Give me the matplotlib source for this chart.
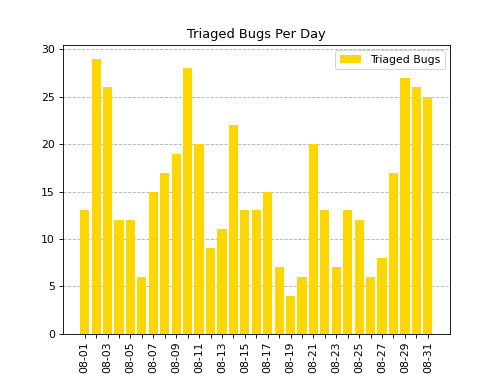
import matplotlib
matplotlib.use("Agg")
import matplotlib.pyplot as plt

days = [f"08-{d:02d}" for d in range(1, 32)]
bugs = [13, 29, 26, 12, 12, 6, 15, 17, 19, 28, 20, 9, 11, 22, 13, 13, 15, 7, 4, 6,
        20, 13, 7, 13, 12, 6, 8, 17, 27, 26, 25]

fig, ax = plt.subplots(figsize=(6.4, 4.8), dpi=78.125)
x = list(range(len(days)))
ax.bar(x, bugs, color="#FFD700", label="Triaged Bugs")
ax.set_axisbelow(True)
ax.grid(axis="y", linestyle="--")
ax.set_xticks(x)
ax.set_xticklabels([d if i % 2 == 0 else "" for i, d in enumerate(days)], rotation=90)
ax.set_title("Triaged Bugs Per Day")
ax.legend(loc="upper right")
fig.savefig("out.png")
